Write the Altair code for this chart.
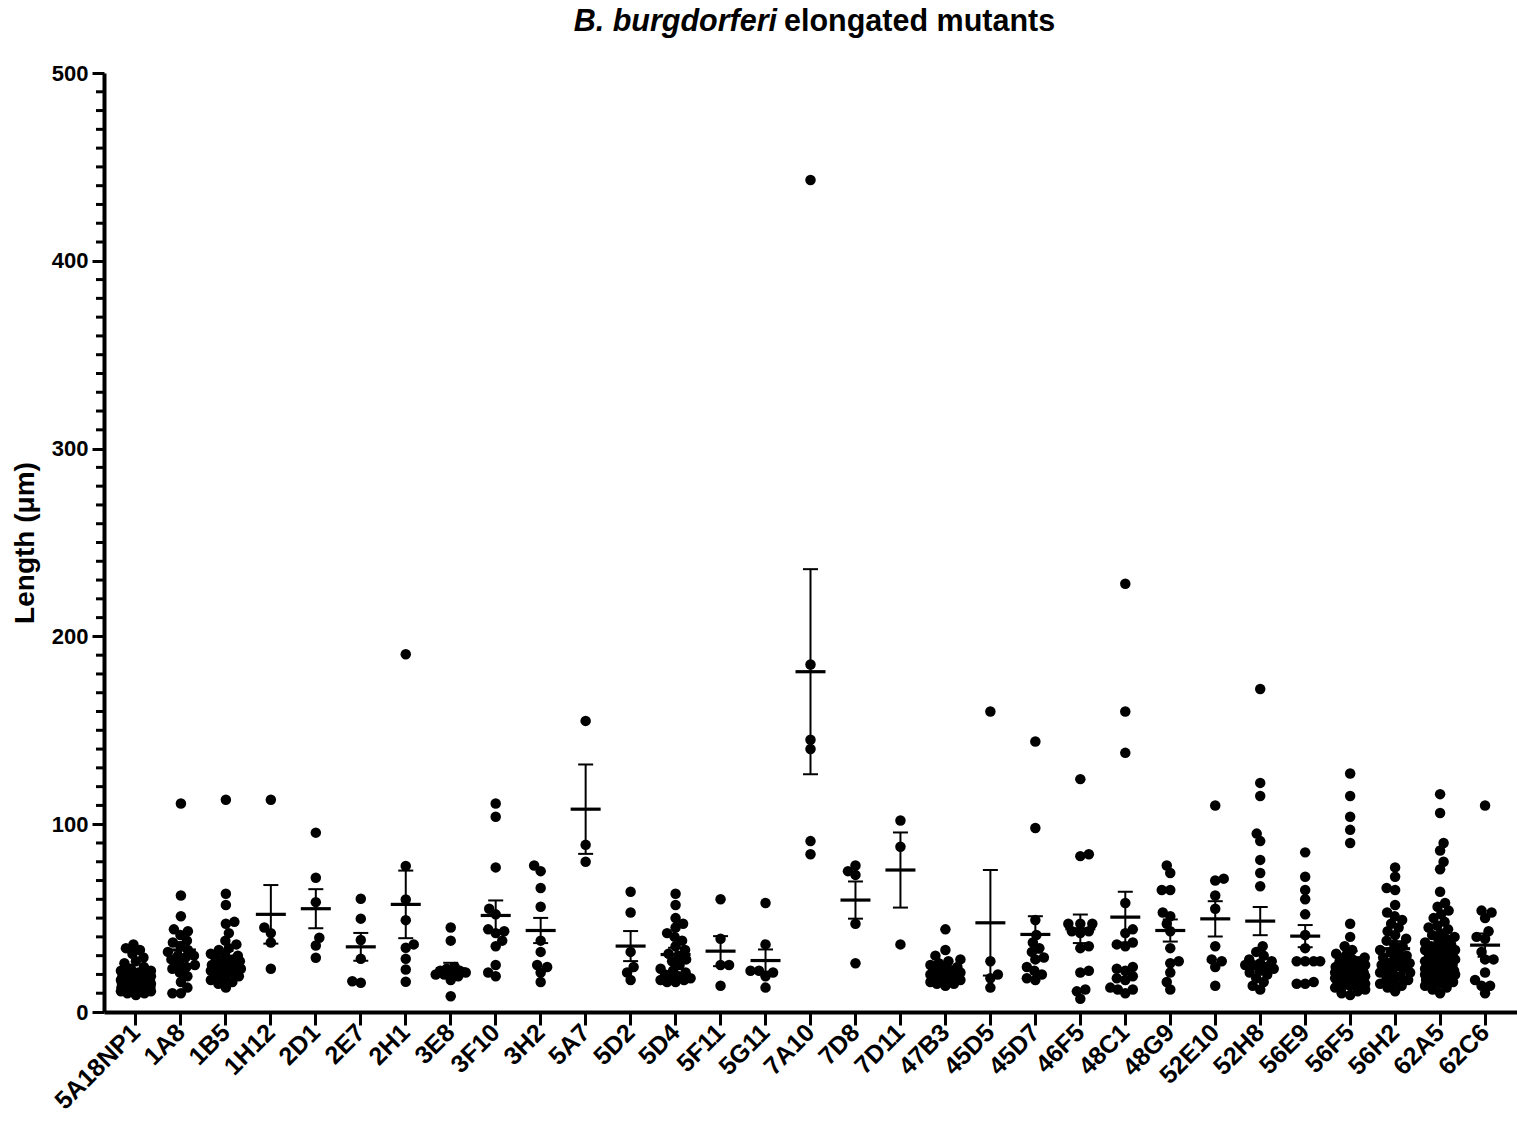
import math
import altair as alt
import pandas as pd

# ---------------- data ----------------
groups = ["5A18NP1", "1A8", "1B5", "1H12", "2D1", "2E7", "2H1", "3E8", "3F10", "3H2",
          "5A7", "5D2", "5D4", "5F11", "5G11", "7A10", "7D8", "7D11", "47B3", "45D5",
          "45D7", "46F5", "48C1", "48G9", "52E10", "52H8", "56E9", "56F5", "56H2", "62A5", "62C6"]

g_5A18NP1 = [36, 34, 33, 31, 29, 27, 26, 24, 23, 22, 22, 21, 21, 20, 20, 20, 19, 19, 19, 19, 18, 18,
             18, 18, 18, 17, 17, 17, 17, 17, 17, 16, 16, 16, 16, 16, 16, 15, 15, 15, 15, 15, 15, 14,
             14, 14, 14, 14, 13, 13, 13, 13, 12, 12, 12, 11, 11, 10, 10, 9]
g_1A8 = [111, 62, 51, 44, 43, 41, 38, 37, 35, 33, 32, 30, 30, 29, 28, 26, 25, 24, 23, 21, 19, 16, 13, 10, 10]
g_1B5 = [113, 63, 57, 48, 47, 42, 38, 36, 34, 33, 31, 30, 30, 29, 28, 27, 26, 25, 25, 24, 24, 23,
         22, 22, 21, 20, 19, 18, 17, 16, 15, 13]
g_1H12 = [113, 45, 42, 37, 23]
g_2D1 = [95.5, 71.5, 58.5, 39.5, 35.4, 28.9]
g_2E7 = [60.3, 49.7, 38.3, 28.3, 15.6, 16.4]
g_2H1 = [190.5, 77.7, 59.9, 48.9, 36, 34.2, 28.3, 22.6, 16.1]
g_3E8 = [45, 38, 24, 23, 22, 22, 21, 21, 20, 20, 19, 17, 8.4]
g_3F10 = [111, 104, 77, 55, 52, 44, 43, 42, 38, 35, 25, 21, 19]
g_3H2 = [78, 75, 66, 56, 38, 32, 25, 24, 21, 16]
g_5A7 = [155, 89, 80]
g_5D2 = [64, 53, 32, 24, 21, 17]
g_5D4 = [63, 57, 50, 47, 45, 42, 40, 38, 35, 33, 31, 30, 28, 27, 25, 23, 22, 21, 20, 19, 18, 18,
         17, 17, 16, 16]
g_5F11 = [60, 39, 25, 25, 14]
g_5G11 = [58, 36, 22, 22, 21, 19, 13]
g_7A10 = [443, 185, 145, 140, 91, 84]
g_7D8 = [78, 75, 73, 47, 26]
g_7D11 = [102, 88, 36]
g_47B3 = [44, 33, 30, 28, 27, 26, 25, 24, 23, 22, 22, 21, 21, 20, 20, 19, 19, 18, 18, 17, 16, 15, 15, 14]
g_45D5 = [160, 27, 20, 18, 13]
g_45D7 = [144, 98, 49, 41, 37, 34, 32, 29, 28, 24, 22, 20, 18, 17]
g_46F5 = [124, 84, 83, 47, 47, 47, 43, 43, 42, 35, 34, 22, 21, 12, 11, 7]
g_48C1 = [228, 160, 138, 58, 44, 42, 37, 36, 35, 24, 23, 22, 19, 18, 17, 13, 12, 12, 10]
g_48G9 = [78, 74, 65, 65, 53, 51, 47, 43, 34, 27, 26, 21, 16, 12]
g_52E10 = [110, 71, 70, 62, 55, 35, 28, 27, 24, 14]
g_52H8 = [172, 122, 115, 95, 91, 81, 74, 67, 35, 32, 30, 28, 27, 26, 25, 25, 24, 23, 22, 21, 20,
          18, 16, 14, 12]
g_56E9 = [85, 72, 65, 60, 52, 41, 34, 27, 27, 27, 27, 16, 15, 15]
g_56F5 = [127, 115, 104, 97, 90, 47, 40, 35, 33, 31, 30, 29, 28, 27, 26, 26, 25, 25, 24, 24, 23, 23,
          22, 22, 22, 21, 21, 21, 20, 20, 20, 19, 19, 19, 18, 18, 18, 17, 17, 17, 16, 16, 16, 15,
          15, 14, 14, 13, 12, 11, 10, 9]
g_56H2 = [77, 72, 66, 65, 57, 53, 51, 49, 47, 45, 43, 41, 39, 38, 36, 35, 33, 32, 31, 30, 29, 28,
          27, 26, 26, 25, 24, 23, 22, 21, 21, 20, 19, 18, 17, 16, 15, 14, 13, 11]
g_62A5 = [116, 106, 90, 86, 80, 76, 64, 58, 56, 54, 52, 50, 48, 46, 45, 44, 42, 41, 40, 39, 38, 37,
          36, 35, 35, 34, 33, 33, 32, 31, 31, 30, 30, 29, 29, 28, 28, 27, 27, 26, 26, 25, 25, 25,
          24, 24, 23, 23, 23, 22, 22, 22, 21, 21, 21, 20, 20, 20, 19, 19, 18, 18, 17, 17, 16, 16,
          15, 14, 13, 12, 10]
g_62C6 = [110, 54, 53, 50, 43, 40, 39, 32, 28, 28, 21, 17, 14, 14, 10]

group_values = [g_5A18NP1, g_1A8, g_1B5, g_1H12, g_2D1, g_2E7, g_2H1, g_3E8, g_3F10, g_3H2,
                g_5A7, g_5D2, g_5D4, g_5F11, g_5G11, g_7A10, g_7D8, g_7D11, g_47B3, g_45D5,
                g_45D7, g_46F5, g_48C1, g_48G9, g_52E10, g_52H8, g_56E9, g_56F5, g_56H2, g_62A5, g_62C6]

means = [18.5, 33.0, 29.2, 52.0, 55.0, 34.7, 57.3, 23.0, 51.4, 43.4,
         108.0, 35.1, 30.6, 32.4, 27.4, 181.2, 59.6, 75.6, 22.6, 47.5,
         41.3, 44.3, 50.5, 43.4, 49.6, 48.4, 40.4, 28.9, 33.7, 30.6, 35.6]
sems = [0.8, 4.2, 3.3, 15.6, 10.4, 7.4, 18.0, 3.2, 8.0, 6.7,
        23.8, 8.0, 3.6, 8.0, 5.9, 54.6, 9.9, 20.0, 1.7, 28.1,
        9.7, 7.6, 13.5, 5.9, 9.4, 7.5, 5.9, 3.5, 4.0, 2.0, 6.2]

y_major = [0, 100, 200, 300, 400, 500]
y_minor = [v for v in range(10, 500, 10) if v % 100 != 0]

# ---------------- layout ----------------
W, H = 1413, 939
PAD_OUTER = 0.21
STEP = W / (len(groups) + 2 * PAD_OUTER)
PX_PER_UNIT = H / 500.0
DIAM = 11.5
FONT = "Liberation Sans"


def swarm(vals, maxw=15.0):
    """Deterministic beeswarm: horizontal pixel offsets that limit overlap."""
    order = sorted(range(len(vals)), key=lambda i: vals[i])
    placed = []
    offs = [0.0] * len(vals)
    thr = 0.72 * DIAM
    n = int(maxw / 0.5)
    for cnt, i in enumerate(order):
        y = vals[i] * PX_PER_UNIT
        sign = 1 if cnt % 2 == 0 else -1
        cands = [0.0]
        for k in range(1, n + 1):
            cands += [sign * k * 0.5, -sign * k * 0.5]
        best, bestd = 0.0, -1.0
        for s in cands:
            md = min((math.hypot(s - px, y - py) for px, py in placed), default=1e9)
            if md >= thr:
                best = s
                break
            if md > bestd + 1e-9:
                bestd, best = md, s
        offs[i] = best
        placed.append((best, y))
    return offs


rows = []
for g, vals in zip(groups, group_values):
    for v, dx in zip(vals, swarm(vals)):
        rows.append({"group": g, "value": v, "dx": dx})
points_df = pd.DataFrame(rows)

stats_df = pd.DataFrame({
    "group": groups,
    "mean": means,
    "lo": [m - s for m, s in zip(means, sems)],
    "hi": [m + s for m, s in zip(means, sems)],
})
minor_df = pd.DataFrame({"v": y_minor})

x_axis = alt.Axis(title=None, labelAngle=-45, labelAlign="right", labelBaseline="middle",
                  labelFont=FONT, labelFontSize=25, labelFontWeight="bold", labelColor="black",
                  labelPadding=3, tickSize=13, tickWidth=3, tickColor="black",
                  domainWidth=4, domainColor="black", bandPosition=0.5, labelOverlap=False,
                  grid=False)
x_enc = alt.X("group:N", sort=groups, axis=x_axis,
              scale=alt.Scale(paddingInner=0, paddingOuter=PAD_OUTER))

y_scale = alt.Scale(domain=[0, 500], nice=False, zero=True)
y_axis = alt.Axis(values=y_major, title="Length (μm)", titleFont=FONT, titleFontSize=28,
                  titleFontWeight="bold", titleColor="black", titlePadding=12,
                  labelFont=FONT, labelFontSize=22, labelFontWeight="bold", labelColor="black",
                  labelPadding=4, tickSize=12, tickWidth=3, tickColor="black",
                  domainWidth=4, domainColor="black", grid=False)

points = alt.Chart(points_df).mark_circle(size=110, color="black", opacity=1).encode(
    x=x_enc,
    xOffset=alt.XOffset("dx:Q", scale=alt.Scale(domain=[-STEP / 2, STEP / 2], range=[0, STEP])),
    y=alt.Y("value:Q", scale=y_scale, axis=y_axis),
)

mean_lines = alt.Chart(stats_df).mark_tick(size=30, thickness=3.2, color="black", opacity=1).encode(
    x=x_enc, y=alt.Y("mean:Q", scale=y_scale, axis=y_axis))

err_rule = alt.Chart(stats_df).mark_rule(strokeWidth=2, color="black").encode(
    x=x_enc, y=alt.Y("lo:Q", scale=y_scale, axis=y_axis), y2="hi:Q")

cap_lo = alt.Chart(stats_df).mark_tick(size=15, thickness=2, color="black", opacity=1).encode(
    x=x_enc, y=alt.Y("lo:Q", scale=y_scale, axis=y_axis))
cap_hi = alt.Chart(stats_df).mark_tick(size=15, thickness=2, color="black", opacity=1).encode(
    x=x_enc, y=alt.Y("hi:Q", scale=y_scale, axis=y_axis))

minor_ticks = alt.Chart(minor_df).mark_rule(strokeWidth=3, color="black").encode(
    y=alt.Y("v:Q", scale=y_scale, axis=y_axis), x=alt.value(-8), x2=alt.value(0))

title_a = alt.Chart(pd.DataFrame({"t": ["B. burgdorferi"]})).mark_text(
    align="right", baseline="middle", font=FONT, fontSize=30.5, fontWeight="bold",
    fontStyle="italic", color="black").encode(text="t:N", x=alt.value(673), y=alt.value(-51))
title_b = alt.Chart(pd.DataFrame({"t": ["elongated mutants"]})).mark_text(
    align="left", baseline="middle", font=FONT, fontSize=30.5, fontWeight="bold",
    color="black").encode(text="t:N", x=alt.value(680), y=alt.value(-51))

chart = alt.layer(minor_ticks, points, err_rule, cap_lo, cap_hi, mean_lines, title_a, title_b).properties(
    width=W, height=H,
    padding={"left": 104, "top": 73, "right": 0, "bottom": 118},
    autosize=alt.AutoSizeParams(type="none"),
    background="white",
).configure_view(stroke=None)

chart.save("out.html", embed_options={"renderer": "svg", "actions": False})
